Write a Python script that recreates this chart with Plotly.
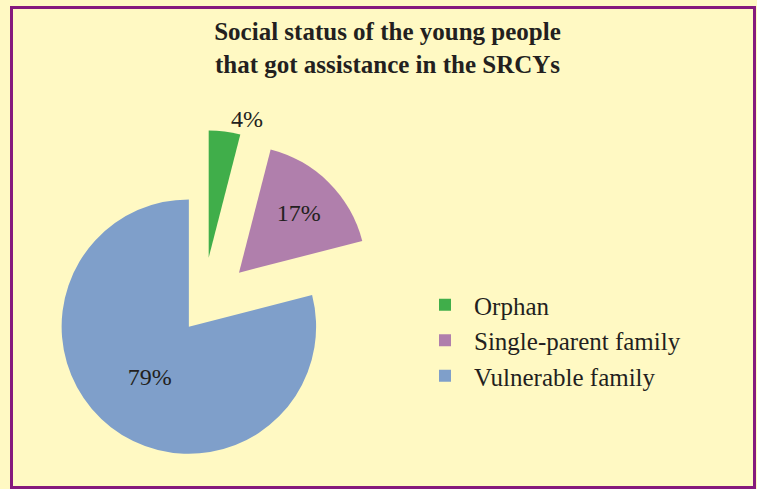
import plotly.graph_objects as go

categories = ["Orphan", "Single-parent family", "Vulnerable family"]
values = [4, 17, 79]
colors = ["#40AE4A", "#B07FAC", "#7F9FCA"]
pulls = [0.41, 0.41, 0.17]
text_positions = ["outside", "inside", "inside"]

title_text = "Social status of the young people<br>that got assistance in the SRCYs"

W, H = 757, 489
BG = "#FFF9C3"
TXT = "#231F20"

fig = go.Figure()
fig.add_trace(go.Pie(
    labels=categories,
    values=values,
    marker=dict(colors=colors, line=dict(width=0)),
    pull=pulls,
    sort=False,
    direction="clockwise",
    rotation=0,
    textinfo="percent",
    textposition=text_positions,
    insidetextorientation="horizontal",
    textfont=dict(family="Liberation Serif", size=24, color=TXT),
    domain=dict(x=[0.030, 0.504], y=[0.0, 0.734]),
    hoverinfo="label+percent",
))

fig.update_layout(
    width=W, height=H,
    margin=dict(l=0, r=0, t=0, b=0, pad=0, autoexpand=False),
    paper_bgcolor=BG,
    plot_bgcolor=BG,
    title=dict(
        text=title_text,
        font=dict(family="Liberation Serif", size=25, color=TXT, weight="bold"),
        x=387.5 / W, xanchor="center",
        y=1 - 40 / H, yanchor="top",
        xref="container", yref="container",
    ),
    legend=dict(
        x=416 / W, xanchor="left",
        y=1 - 282 / H, yanchor="top",
        font=dict(family="Liberation Serif", size=25, color=TXT),
        bgcolor="rgba(0,0,0,0)",
        tracegroupgap=0,
        itemwidth=48,
    ),
    shapes=[
        dict(
            type="rect", xref="paper", yref="paper",
            x0=11.5 / W, x1=754.5 / W, y0=1 - 487.5 / H, y1=1 - 7.5 / H,
            line=dict(color="#851A7D", width=3),
            fillcolor="rgba(0,0,0,0)",
            layer="above",
        ),
    ],
)

fig.write_html(
    "out.html",
    config={"displayModeBar": False},
    post_script="document.body.style.margin='0';",
)
